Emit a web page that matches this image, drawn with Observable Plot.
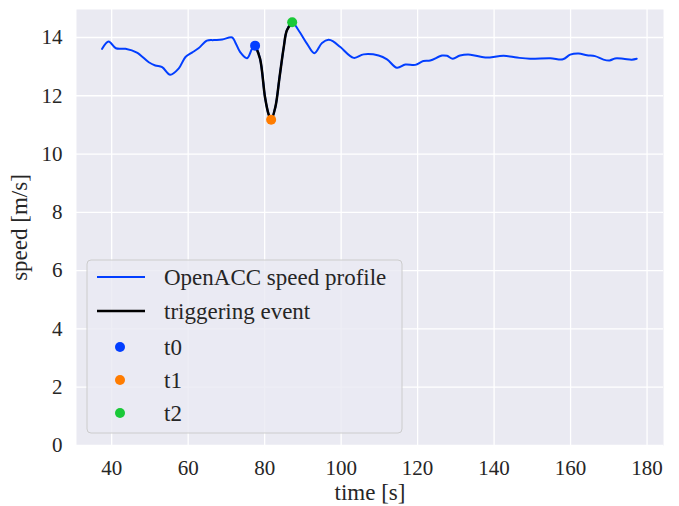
<!DOCTYPE html>
<html>
<head>
<meta charset="utf-8">
<script src="https://cdn.jsdelivr.net/npm/d3@7"></script>
<script src="https://cdn.jsdelivr.net/npm/@observablehq/plot@0.6"></script>
<style>
  html, body { margin: 0; padding: 0; background: #fff; }
  svg text { font-family: "Liberation Serif", "Times New Roman", serif; }
</style>
</head>
<body>
<div id="chart"></div>
<script>
// ---- data ----
const time = [37.5, 39.2, 41.1, 43.6, 46.6, 49.7, 51.4, 53.2, 55.3, 57.5, 59.3, 61.0, 62.7, 64.9, 66.7, 68.9, 71.5, 72.3, 73.6, 75.4, 76.7,
  77.5, 78.8, 80.1, 81.0, 81.7, 82.8, 83.9, 85.0, 85.8, 87.2,
  88.9, 91.1, 93.0, 95.0, 96.7, 98.0, 99.8, 103.3, 105.9, 109.8, 112.0, 114.6, 116.8, 119.4, 121.5, 123.3, 126.4, 127.7, 129.2, 131.1,
  133.8, 137.7, 142.5, 146.0, 149.4, 154.7, 158.0, 159.9, 162.1, 164.3, 166.4, 168.6, 170.2, 171.6, 173.8, 176.0, 177.3];
const speed = [13.61, 13.86, 13.63, 13.61, 13.48, 13.15, 13.04, 12.98, 12.72, 12.93, 13.33, 13.48, 13.63, 13.89, 13.91, 13.93, 14.00, 13.84, 13.50, 13.29, 13.61,
  13.72, 13.27, 11.95, 11.38, 11.18, 11.61, 12.64, 13.67, 14.24, 14.52,
  14.24, 13.78, 13.46, 13.81, 13.92, 13.86, 13.67, 13.30, 13.42, 13.38, 13.25, 12.96, 13.07, 13.06, 13.19, 13.21, 13.38, 13.37, 13.27, 13.38,
  13.41, 13.31, 13.37, 13.31, 13.27, 13.29, 13.25, 13.41, 13.45, 13.39, 13.36, 13.24, 13.21, 13.28, 13.27, 13.24, 13.27];

const eventTime = [77.5, 78.8, 80.1, 81.0, 81.7, 82.8, 83.9, 85.0, 85.8, 87.2];
const eventSpeed = [13.72, 13.27, 11.95, 11.38, 11.18, 11.61, 12.64, 13.67, 14.24, 14.52];

const pointLabels = ["t0", "t1", "t2"];
const pointTime = [77.5, 81.7, 87.2];
const pointSpeed = [13.72, 11.18, 14.52];
const pointColors = ["#023eff", "#ff7c00", "#1ac938"];

const xTicks = [40, 60, 80, 100, 120, 140, 160, 180];
const yTicks = [0, 2, 4, 6, 8, 10, 12, 14];

const seriesLabels = ["OpenACC speed profile", "triggering event"];
const seriesColors = ["#023eff", "#000000"];
const xLabel = "time [s]";
const yLabel = "speed [m/s]";

// ---- build tables ----
const profile = time.map((t, i) => ({t, v: speed[i]}));
const event = eventTime.map((t, i) => ({t, v: eventSpeed[i]}));
const pts = pointLabels.map((k, i) => ({k, t: pointTime[i], v: pointSpeed[i], c: pointColors[i]}));

const FONT = "'Liberation Serif', 'Times New Roman', serif";

const chart = Plot.plot({
  width: 679,
  height: 506,
  marginLeft: 76,
  marginRight: 16,
  marginTop: 9,
  marginBottom: 61,
  style: {fontFamily: FONT, fontSize: "21px", color: "#262626", background: "#ffffff"},
  x: {domain: [30.8, 184.3]},
  y: {domain: [0, 14.96]},
  marks: [
    Plot.frame({fill: "#EAEAF2", stroke: null}),
    Plot.gridX(xTicks, {stroke: "#ffffff", strokeOpacity: 1, strokeWidth: 1.3}),
    Plot.gridY(yTicks, {stroke: "#ffffff", strokeOpacity: 1, strokeWidth: 1.3}),
    Plot.axisX(xTicks, {tickSize: 0, tickPadding: 15, fontSize: 21, fontFamily: FONT, label: null, fill: "#262626"}),
    Plot.axisY(yTicks, {tickSize: 0, tickPadding: 14, fontSize: 21, fontFamily: FONT, label: null, fill: "#262626"}),
    Plot.line(profile, {x: "t", y: "v", stroke: seriesColors[0], strokeWidth: 2, curve: "catmull-rom"}),
    Plot.line(event, {x: "t", y: "v", stroke: seriesColors[1], strokeWidth: 2.5, curve: "catmull-rom"}),
    Plot.dot(pts, {x: "t", y: "v", fill: "c", r: 5, stroke: null}),
    Plot.text([xLabel], {frameAnchor: "bottom", textAnchor: "middle", dy: 54, text: d => d, fontSize: 23, fontFamily: FONT, fill: "#262626"}),
    Plot.text([yLabel], {frameAnchor: "left", textAnchor: "middle", dx: -57, rotate: -90, text: d => d, fontSize: 23, fontFamily: FONT, fill: "#262626"})
  ]
});

document.getElementById("chart").appendChild(chart);

// ---- legend ----
const svg = d3.select(chart);
const lg = svg.append("g").attr("font-family", FONT).attr("font-size", 23).attr("fill", "#262626").attr("text-anchor", "start");
lg.append("rect").attr("x", 87).attr("y", 260).attr("width", 315).attr("height", 173)
  .attr("rx", 4).attr("fill", "#EAEAF2").attr("fill-opacity", 0.8).attr("stroke", "#cccccc").attr("stroke-width", 1);
const rowY = [277, 311, 347, 380, 413];
seriesLabels.forEach((s, i) => {
  lg.append("line").attr("x1", 97).attr("x2", 145).attr("y1", rowY[i]).attr("y2", rowY[i])
    .attr("stroke", seriesColors[i]).attr("stroke-width", i === 0 ? 2 : 2.5);
  lg.append("text").attr("x", 164).attr("y", rowY[i]).attr("dy", "0.35em").attr("text-anchor", "start").text(s);
});
pts.forEach((p, i) => {
  lg.append("circle").attr("cx", 120).attr("cy", rowY[i + 2]).attr("r", 5).attr("fill", p.c);
  lg.append("text").attr("x", 164).attr("y", rowY[i + 2]).attr("dy", "0.35em").attr("text-anchor", "start").text(p.k);
});
</script>
</body>
</html>
